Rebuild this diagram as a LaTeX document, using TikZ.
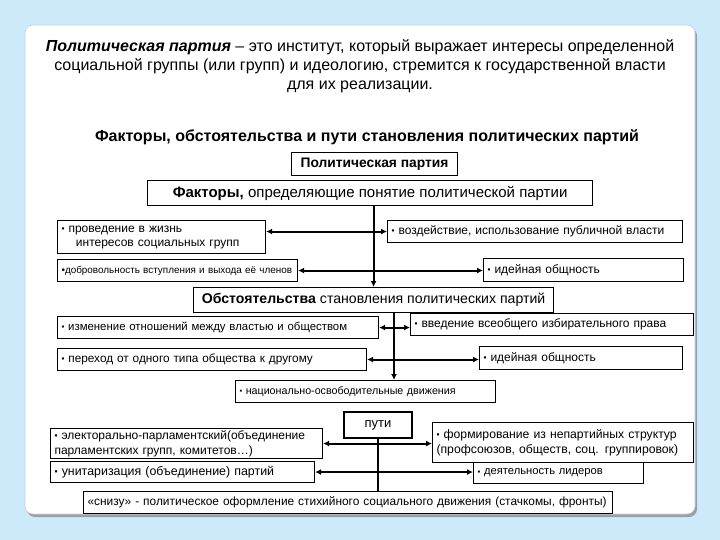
\documentclass[tikz,border=0pt]{standalone}
\usepackage{fontspec}
\setmainfont{Liberation Sans}
\usetikzlibrary{arrows.meta,calc}
\definecolor{bgblue}{RGB}{204,234,250}
\definecolor{shadowgray}{RGB}{150,160,170}
\definecolor{panelborder}{RGB}{200,205,210}
\newcommand{\sq}{\raisebox{0.15ex}{\scalebox{0.7}{▪}}}
\newcommand{\fz}[1]{\fontsize{#1}{14}\selectfont}
\begin{document}
\begin{tikzpicture}[x=1pt,y=-1pt,
  bx/.style={draw, line width=1.1pt, anchor=north west, inner xsep=4pt, inner ysep=0pt, align=left, font=\fontsize{12}{14}\selectfont},
  cbx/.style={draw, line width=1.1pt, anchor=north west, inner xsep=0pt, inner ysep=0pt, align=center},
  dbl/.style={line width=2pt, {Latex[length=6pt,width=6pt]}-{Latex[length=6pt,width=6pt]}},
  vline/.style={line width=2pt},
  varr/.style={line width=2pt, -{Latex[length=6pt,width=6pt]}}
]
\useasboundingbox (0,0) rectangle (720,540);
\fill[bgblue] (0,0) rectangle (720,540);
\fill[shadowgray, rounded corners=8pt] (27,28) rectangle (697,517);
\filldraw[fill=white, draw=panelborder, line width=0.6pt, rounded corners=8pt] (25,25) rectangle (695,514);

\node[align=center, font=\fontsize{16}{19}\selectfont] (title) at (360,66)
  {\textbf{\textit{Политическая партия}} – это институт, который выражает интересы определенной\\
   социальной группы (или групп) и идеологию, стремится к государственной власти\\
   для их реализации.};
\node[font=\fontsize{16}{19}\selectfont\bfseries] (head) at (367,137)
  {Факторы, обстоятельства и пути становления политических партий};

\node[cbx, minimum width=166pt, minimum height=23pt, font=\fontsize{13.8}{16}\selectfont\bfseries] (pp) at (291,152) {Политическая партия};
\node[cbx, minimum width=445pt, minimum height=25pt, font=\fontsize{15}{18}\selectfont] (fact) at (147,180) {\textbf{Факторы,} определяющие понятие политической партии};

\node[bx, text width=200pt, minimum height=33pt] (prov) at (57,220) {\sq\ проведение в жизнь\\\hspace*{1.2em}интересов социальных групп};
\node[bx, text width=287pt, minimum height=22pt] (vozd) at (387,220) {\sq\ воздействие, использование публичной власти};
\node[bx, text width=232pt, minimum height=22pt, font=\fz{9.9}] (dobr) at (57,259) {•добровольность вступления и выхода её членов};
\node[bx, text width=192pt, minimum height=23pt] (ide1) at (483,258) {\sq\ идейная общность};

\node[cbx, minimum width=360pt, minimum height=25pt, font=\fontsize{14.1}{17}\selectfont] (obst) at (193,287) {\textbf{Обстоятельства} становления политических партий};

\node[bx, text width=313pt, minimum height=22pt, font=\fz{11.4}] (izm) at (57,316) {\sq\ изменение отношений между властью и обществом};
\node[bx, text width=275pt, minimum height=22pt] (vved) at (410,313) {\sq\ введение всеобщего избирательного права};
\node[bx, text width=301pt, minimum height=22pt, font=\fz{11.8}] (per) at (57,348) {\sq\ переход от одного типа общества к другому};
\node[bx, text width=195pt, minimum height=23pt] (ide2) at (479,346) {\sq\ идейная общность};
\node[bx, text width=252pt, minimum height=22pt, font=\fz{10.7}] (nat) at (235,380) {\sq\ национально-освободительные движения};

\node[cbx, line width=2pt, minimum width=68pt, minimum height=26pt, font=\fontsize{13}{15}\selectfont] (puti) at (343,411) {пути};

\node[bx, text width=264pt, minimum height=30pt, font=\fontsize{12}{15}\selectfont] (elek) at (50,428) {\sq\ электорально-парламентский(объединение\\парламентских групп, комитетов…)};
\node[bx, text width=253pt, minimum height=40pt, font=\fontsize{12.2}{15}\selectfont] (form) at (432,422) {\sq\ формирование из непартийных структур\\(профсоюзов, обществ, соц. группировок)};
\node[bx, text width=256pt, minimum height=21pt, font=\fz{12.4}] (unit) at (50,461) {\sq\ унитаризация (объединение) партий};
\node[bx, text width=162pt, minimum height=21pt, font=\fz{11.2}] (deyat) at (473,462) {\sq\ деятельность лидеров};
\node[bx, text width=521pt, minimum height=22pt, font=\fz{11.9}] (sniz) at (83,491) {«снизу» - политическое оформление стихийного социального движения (стачкомы, фронты)};

% connectors
\draw[varr] (obst.north |- fact.south) -- (obst.north);
\draw[dbl] (prov.east |- vozd.west) -- (vozd.west);
\draw[dbl] (dobr.east) -- (dobr.east -| ide1.west);

\coordinate (v2) at (394,312);
\draw[varr] (v2) -- (v2 |- nat.north);
\draw[dbl] (izm.east) -- (izm.east -| vved.west);
\draw[dbl] (per.east) -- (per.east -| ide2.west);

\draw[vline] (puti.south) -- (puti.south |- sniz.north);
\draw[dbl] (elek.east) -- (elek.east -| form.west);
\draw[dbl] (unit.east) -- (unit.east -| deyat.west);
\end{tikzpicture}
\end{document}
